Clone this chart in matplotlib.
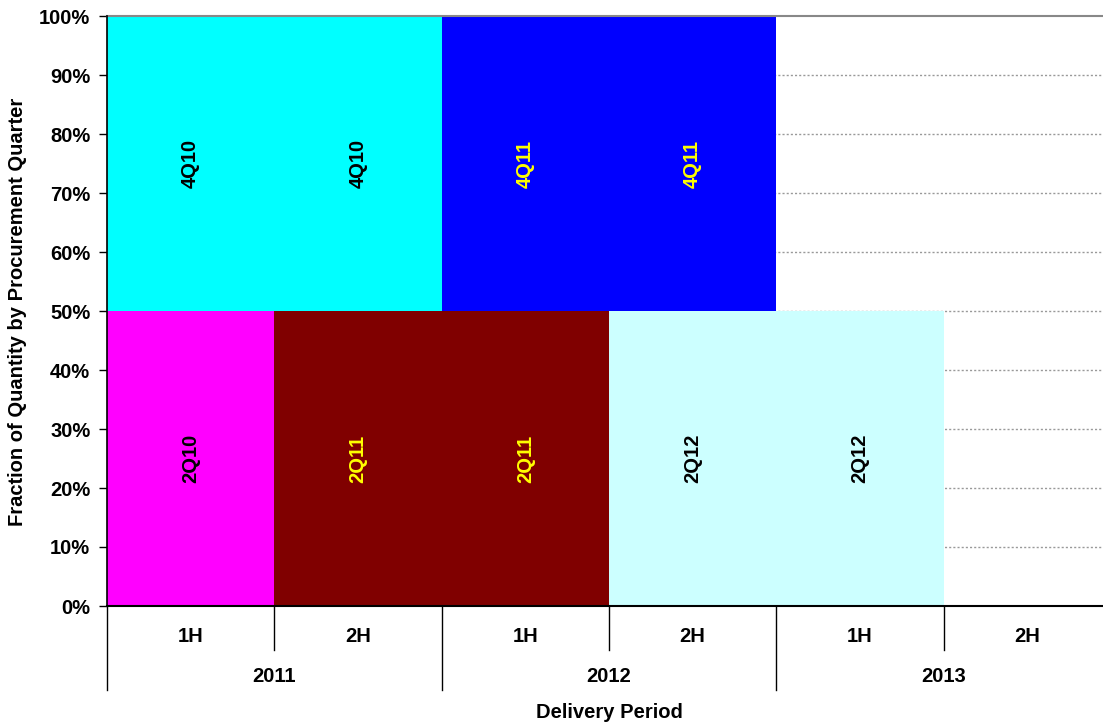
import matplotlib
matplotlib.use("Agg")
import matplotlib.pyplot as plt
from matplotlib.lines import Line2D
from matplotlib.ticker import FuncFormatter

plt.rcParams['font.family'] = ['Liberation Sans', 'DejaVu Sans']
plt.rcParams['font.weight'] = 'bold'

FS = 14.5

# Delivery periods (half-years within calendar years)
halves = ["1H", "2H", "1H", "2H", "1H", "2H"]
years = ["2011", "2012", "2013"]

# Fraction of quantity procured in each quarter, stacked per delivery period
lower_values = [0.5, 0.5, 0.5, 0.5, 0.5, 0.0]
lower_labels = ["2Q10", "2Q11", "2Q11", "2Q12", "2Q12", ""]
upper_values = [0.5, 0.5, 0.5, 0.5, 0.0, 0.0]
upper_labels = ["4Q10", "4Q10", "4Q11", "4Q11", "", ""]

quarter_colors = {"2Q10": "#FF00FF", "2Q11": "#800000", "2Q12": "#CCFFFF",
                  "4Q10": "#00FFFF", "4Q11": "#0000FF", "": "none"}
quarter_text = {"2Q10": "black", "2Q11": "#FFFF00", "2Q12": "black",
                "4Q10": "black", "4Q11": "#FFFF00", "": "black"}

W, H = 1103, 725
fig = plt.figure(figsize=(W / 100, H / 100), dpi=100)
ax = fig.add_axes([107 / W, 1 - 606 / H, (1111 - 107) / W, (606 - 16) / H])

x = list(range(len(halves)))

# Horizontal gridlines behind the bars
for v in [i / 10 for i in range(1, 10)]:
    ax.axhline(v, color="#999999", lw=1.0, ls=(0, (1.5, 1.5)), zorder=0)

ax.bar(x, lower_values, width=1.0, color=[quarter_colors[l] for l in lower_labels],
       linewidth=0, zorder=2)
ax.bar(x, upper_values, width=1.0, bottom=lower_values,
       color=[quarter_colors[l] for l in upper_labels], linewidth=0, zorder=2)

for xi, lv, ll, uv, ul in zip(x, lower_values, lower_labels, upper_values, upper_labels):
    if lv > 0 and ll:
        ax.text(xi, lv / 2, ll, rotation=90, ha="center", va="center",
                fontsize=FS, fontweight="bold", color=quarter_text[ll], zorder=3)
    if uv > 0 and ul:
        ax.text(xi, lv + uv / 2, ul, rotation=90, ha="center", va="center",
                fontsize=FS, fontweight="bold", color=quarter_text[ul], zorder=3)

ax.set_xlim(-0.5, len(halves) - 0.5)
ax.set_ylim(0, 1)
ax.set_yticks([i / 10 for i in range(11)])
ax.yaxis.set_major_formatter(FuncFormatter(lambda v, _: f"{v:.0%}"))
ax.tick_params(axis="y", direction="out", length=6, width=1, labelsize=FS, pad=6)
for lab in ax.get_yticklabels():
    lab.set_fontweight("bold")
ax.set_xticks([])

ax.spines["right"].set_visible(False)
ax.spines["top"].set_color("#888888")
ax.spines["top"].set_linewidth(1.5)
ax.spines["left"].set_linewidth(1.2)
ax.spines["bottom"].set_linewidth(1.5)
ax.spines["left"].set_zorder(4)

# Two-level category axis: half-years, then years
trans = ax.get_xaxis_transform()
px = 1 / (606 - 16)
for xi, h in zip(x, halves):
    ax.text(xi, -30 * px, h, transform=trans, ha="center", va="center",
            fontsize=FS, fontweight="bold")
for i, y in enumerate(years):
    ax.text(2 * i + 0.5, -70 * px, y, transform=trans, ha="center", va="center",
            fontsize=FS, fontweight="bold")
for b in range(len(halves)):
    edge = b - 0.5
    depth = 84 if b % 2 == 0 else 44
    ax.add_line(Line2D([edge, edge], [0, -depth * px], transform=trans,
                       color="black", lw=1.0, clip_on=False))

fig.text((107 + 1111) / 2 / W, 1 - 712 / H, "Delivery Period", ha="center", va="center",
         fontsize=FS, fontweight="bold")
fig.text(18 / W, 1 - 312 / H, "Fraction of Quantity by Procurement Quarter",
         rotation=90, ha="center", va="center", fontsize=FS, fontweight="bold")

fig.savefig("out.png", dpi=100)
